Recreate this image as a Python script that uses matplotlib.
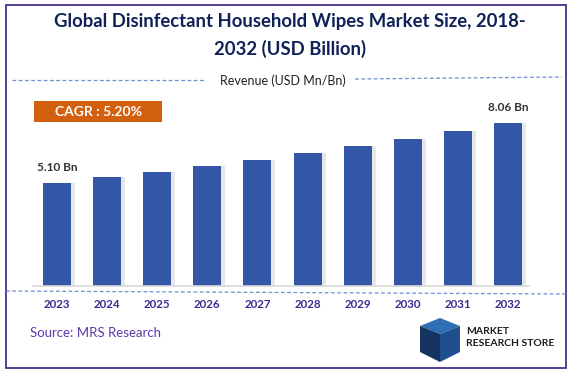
import matplotlib.pyplot as plt
from matplotlib.patches import Rectangle, Polygon
from matplotlib.lines import Line2D

plt.rcParams['font.family'] = ['Lato', 'DejaVu Sans']

years = ['2023', '2024', '2025', '2026', '2027', '2028', '2029', '2030', '2031', '2032']
revenue = [5.10, 5.37, 5.65, 5.94, 6.25, 6.58, 6.92, 7.28, 7.66, 8.06]
first_label = '5.10 Bn'
last_label = '8.06 Bn'
cagr_text = 'CAGR : 5.20%'

W, H = 574, 374
fig = plt.figure(figsize=(W / 100, H / 100), dpi=100)
fig.patch.set_facecolor('white')


def fx(px):
    return px / W


def fy(py):
    return 1 - py / H


# outer border
fig.add_artist(Rectangle((fx(6), fy(368)), fx(560), (368 - 5) / H, transform=fig.transFigure,
                         fill=False, edgecolor='#4b2f8a', linewidth=1.3))

# title
fig.text(fx(290), fy(22), 'Global Disinfectant Household Wipes Market Size, 2018-',
         ha='center', va='center', fontsize=13.3, fontweight='bold', color='#0f2257')
fig.text(fx(290), fy(49), '2032 (USD Billion)',
         ha='center', va='center', fontsize=13.3, fontweight='bold', color='#0f2257')

# revenue subtitle with dashed lines
fig.add_artist(Line2D([fx(12), fx(205)], [fy(80), fy(80)], transform=fig.transFigure,
                      color='#6f8fcf', linestyle=(0, (3, 2)), linewidth=0.9))
fig.add_artist(Line2D([fx(355), fx(562)], [fy(79), fy(77)], transform=fig.transFigure,
                      color='#6f8fcf', linestyle=(0, (3, 2)), linewidth=0.9))
fig.text(fx(283), fy(81), 'Revenue (USD Mn/Bn)', ha='center', va='center',
         fontsize=9, color='#222222')

# bar chart axes
ax = fig.add_axes([fx(33), fy(286), fx(496), (286 - 100) / H])
x = list(range(len(years)))
shadow_x = [i + 0.08 for i in x]
ax.bar(shadow_x, revenue, width=0.56, color='#d0d0d0', alpha=0.5, zorder=1)
ax.bar(x, revenue, width=0.56, color='#3356a6', zorder=2)
ax.set_xlim(-0.48, 9.42)
ax.set_ylim(0, 9.2)
ax.set_xticks(x)
ax.set_xticklabels(years, fontsize=8.3, fontweight='bold', color='#3b2a8f')
ax.tick_params(axis='x', length=0, pad=9)
ax.set_yticks([])
for side in ['top', 'left', 'right']:
    ax.spines[side].set_visible(False)
ax.spines['bottom'].set_color('#d9d9d9')
ax.spines['bottom'].set_linewidth(1.2)
ax.patch.set_alpha(0)

ax.annotate(first_label, (x[0], revenue[0]), xytext=(0, 7), textcoords='offset points',
            ha='center', va='bottom', fontsize=8.5, fontweight='bold', color='#333333')
ax.annotate(last_label, (x[-1], revenue[-1]), xytext=(0, 7), textcoords='offset points',
            ha='center', va='bottom', fontsize=8.5, fontweight='bold', color='#333333')

# dashed line under the axis
fig.add_artist(Line2D([fx(6), fx(566)], [fy(291), fy(294)], transform=fig.transFigure,
                      color='#6f8fcf', linestyle=(0, (3, 2)), linewidth=0.9))

# CAGR box
fig.add_artist(Rectangle((fx(34), fy(122)), fx(128), 21 / H, transform=fig.transFigure,
                         facecolor='#d2600f', edgecolor='none'))
fig.text(fx(98), fy(111.5), cagr_text, ha='center', va='center', fontsize=10,
         fontweight='bold', color='white')

# source
fig.text(fx(30), fy(333), 'Source: MRS Research', ha='left', va='center',
         fontsize=9.5, color='#5a3aa8')

# logo (simple block shape + text)
fig.add_artist(Polygon([(fx(420), fy(326)), (fx(440), fy(318)), (fx(460), fy(326)), (fx(440), fy(334))],
                       closed=True, transform=fig.transFigure, facecolor='#2f6fb5', edgecolor='none'))
fig.add_artist(Polygon([(fx(420), fy(326)), (fx(440), fy(334)), (fx(440), fy(362)), (fx(420), fy(352))],
                       closed=True, transform=fig.transFigure, facecolor='#15335f', edgecolor='none'))
fig.add_artist(Polygon([(fx(440), fy(334)), (fx(460), fy(326)), (fx(460), fy(352)), (fx(440), fy(362))],
                       closed=True, transform=fig.transFigure, facecolor='#1f4f8f', edgecolor='none'))
fig.text(fx(466), fy(332), 'MARKET', ha='left', va='center', fontsize=7.5,
         fontweight='bold', color='#1a1a1a')
fig.text(fx(466), fy(343), 'RESEARCH STORE', ha='left', va='center', fontsize=7.5,
         fontweight='bold', color='#1a1a1a')

fig.savefig('out.png', dpi=100)
